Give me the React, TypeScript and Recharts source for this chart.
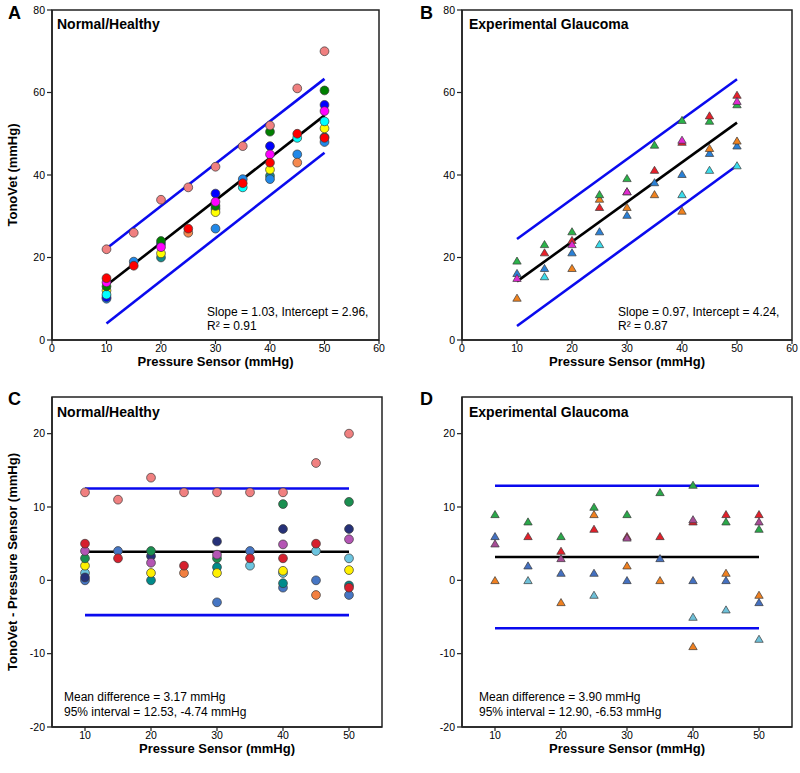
import React from "react";
import {
  ScatterChart,
  Scatter,
  XAxis,
  YAxis,
  ReferenceLine,
  ReferenceArea,
} from "recharts";

const FONT = '"Liberation Sans", Arial, Helvetica, sans-serif';

// pressure sensor levels (mmHg)
const pressure = [10, 15, 20, 25, 30, 35, 40, 45, 50];

// A: TonoVet readings, normal/healthy eyes
const aPink = [22, 26, 34, 37, 42, 47, 52, 61, 70];
const aGreen = [13, null, 24, null, 32.5, null, 50.5, null, 60.5];
const aBlue = [10.4, null, 23.3, null, 35.5, null, 47, null, 57];
const aMagenta = [14, null, 22.5, null, 33.5, null, 45, null, 55.5];
const aCyan = [11, null, null, null, null, 37, null, 49, 53];
const aYellow = [12, null, 21, null, 31, null, 41.3, null, 51.3];
const aTeal = [null, null, 20, null, 31.8, null, 39.8, null, 49.2];
const aRed = [15, 18, null, 27, null, 38, 43, 50, 49];
const aDodger = [10, 19, null, null, 27, 39, 39, 45, 48];
const aOrange = [null, null, null, 26, null, null, null, 43, null];

// B: TonoVet readings, experimental glaucoma
const bGreen = [19.2, 23.2, 26.3, 35.3, 39.2, 47.3, 53.3, 53.1, 57.1];
const bOrange = [10.2, null, 17.4, 34.2, 32.2, 35.3, 31.3, 46.5, 48.3];
const bRed = [null, 21.2, 24.2, 32.2, 36, 41.2, 48, 54.4, 59.4];
const bBlue = [16.2, 17.4, 21.2, 26.3, 30.3, 38.2, 40.2, 45.3, 47.1];
const bCyan = [null, 15.4, null, 23.2, null, null, 35.3, 41.2, 42.3];
const bMagenta = [15, null, 23.2, null, 36, null, 48.5, null, 57.9];

// C: difference TonoVet - sensor, normal/healthy
const cPink = [12, 11, 14, 12, 12, 12, 12, 16, 20];
const cGreen = [3, null, 4, null, 3, null, 10.4, null, 10.7];
const cNavy = [0.4, null, 3.3, null, 5.3, null, 7, null, 7];
const cOrchid = [4, null, 2.4, null, 3.5, null, 4.9, null, 5.6];
const cSky = [1, null, null, null, null, 2, 1, 4, 3];
const cYellow = [2, null, 1, null, 1, null, 1.3, null, 1.4];
const cTeal = [null, null, 0, null, 1.8, null, -0.4, null, -0.7];
const cRed = [5, 3, null, 2, null, 3, 3, 5, -1];
const cSteel = [0, 4, null, null, -3, 4, -1, 0, -2];
const cOrange = [null, null, null, 1, null, null, null, -2, null];

// D: difference TonoVet - sensor, experimental glaucoma
const dGreen = [9, 8, 6, 10, 9, 12, 13, 8, 7];
const dOrange = [0, null, -3, 9, 2, 0, -9, 1, -2];
const dRed = [null, 6, 4, 7, 6, 6, 8, 9, 9];
const dSteel = [6, 2, 1, 1, 0, 3, 0, 0, -3];
const dSky = [null, 0, null, -2, null, null, -5, -4, -8];
const dPurple = [5, null, 3, null, 5.8, null, 8.3, null, 8];

// fitted lines / limits at x = 10 and x = 50
const aFit = [13.26, 54.46];
const aUpper = [22.2, 63.3];
const aLower = [4.0, 45.4];
const bFit = [14.2, 52.7];
const bUpper = [24.5, 63.2];
const bLower = [3.4, 42.3];
const cMean = [3.9, 3.9];
const cUpper = [12.53, 12.53];
const cLower = [-4.74, -4.74];
const dMean = [3.19, 3.19];
const dUpper = [12.9, 12.9];
const dLower = [-6.53, -6.53];

const toPoints = (vals: (number | null)[]) =>
  pressure.flatMap((x, i) => (vals[i] == null ? [] : [{ x, y: vals[i] as number }]));

const dot = (fill: string) => (p: any) =>
  <circle cx={p.cx} cy={p.cy} r={4.4} fill={fill} stroke="#3a3a3a" strokeWidth={0.7} />;

const tri = (fill: string) => (p: any) => {
  const { cx, cy } = p;
  return (
    <path
      d={`M${cx},${cy - 3.8} L${cx + 4.2},${cy + 3.3} L${cx - 4.2},${cy + 3.3} Z`}
      fill={fill}
      stroke="#3a3a3a"
      strokeWidth={0.7}
    />
  );
};

type Series = { vals: (number | null)[]; color: string };

const seriesA: Series[] = [
  { vals: aTeal, color: "#148C8C" },
  { vals: aDodger, color: "#2088E8" },
  { vals: aOrange, color: "#F5894F" },
  { vals: aBlue, color: "#0000FF" },
  { vals: aYellow, color: "#FFFF00" },
  { vals: aCyan, color: "#00FFFF" },
  { vals: aGreen, color: "#008000" },
  { vals: aMagenta, color: "#FF00FF" },
  { vals: aRed, color: "#FF0000" },
  { vals: aPink, color: "#F08080" },
];
const seriesB: Series[] = [
  { vals: bCyan, color: "#3ADCEB" },
  { vals: bBlue, color: "#2A80D6" },
  { vals: bOrange, color: "#F0821E" },
  { vals: bGreen, color: "#2BB34A" },
  { vals: bRed, color: "#E8202A" },
  { vals: bMagenta, color: "#E02AD0" },
];
const seriesC: Series[] = [
  { vals: cSteel, color: "#4676C4" },
  { vals: cTeal, color: "#008B8B" },
  { vals: cOrange, color: "#F28040" },
  { vals: cSky, color: "#6CC5E0" },
  { vals: cYellow, color: "#FFF000" },
  { vals: cNavy, color: "#263178" },
  { vals: cGreen, color: "#1A8F50" },
  { vals: cOrchid, color: "#B455B4" },
  { vals: cRed, color: "#D6202E" },
  { vals: cPink, color: "#F08080" },
];
const seriesD: Series[] = [
  { vals: dSky, color: "#6EC0D8" },
  { vals: dSteel, color: "#4470C0" },
  { vals: dOrange, color: "#F08020" },
  { vals: dGreen, color: "#2AA84A" },
  { vals: dRed, color: "#E3202A" },
  { vals: dPurple, color: "#A64C95" },
];

const axisLine = { stroke: "#222", strokeWidth: 1.5 };
const tickLine = { stroke: "#222", strokeWidth: 1.2 };
const tickStyle = { fontSize: 10.5, fill: "#000" };
const labelStyle = { fontSize: 13, fontWeight: "bold", fill: "#000" };

type PanelProps = {
  left: number;
  top: number;
  width: number;
  marginRight: number;
  series: Series[];
  triangles?: boolean;
  xDomain: [number, number];
  xTicks: number[];
  yDomain: [number, number];
  yTicks: number[];
  yLabel?: string;
  mid: number[];
  upper: number[];
  lower: number[];
};

function Panel(props: PanelProps) {
  const { xDomain, yDomain } = props;
  const seg = (v: number[]) => [
    { x: 10, y: v[0] },
    { x: 50, y: v[1] },
  ];
  return (
    <div style={{ position: "absolute", left: props.left, top: props.top }}>
      <ScatterChart
        width={props.width}
        height={380}
        margin={{ top: 10, right: props.marginRight, bottom: 8, left: 0 }}
      >
        <XAxis
          type="number"
          dataKey="x"
          domain={xDomain}
          ticks={props.xTicks}
          interval={0}
          allowDataOverflow
          height={32}
          tickSize={4}
          tickMargin={1}
          axisLine={axisLine}
          tickLine={tickLine}
          tick={tickStyle}
          label={{ value: "Pressure Sensor (mmHg)", position: "insideBottom", offset: 6, style: labelStyle }}
        />
        <YAxis
          type="number"
          dataKey="y"
          domain={yDomain}
          ticks={props.yTicks}
          interval={0}
          allowDataOverflow
          width={52}
          tickSize={5}
          axisLine={axisLine}
          tickLine={tickLine}
          tick={tickStyle}
          label={
            props.yLabel
              ? {
                  value: props.yLabel,
                  angle: -90,
                  position: "insideLeft",
                  offset: 12,
                  style: { ...labelStyle, textAnchor: "middle" },
                }
              : undefined
          }
        />
        <ReferenceArea
          x1={xDomain[0]}
          x2={xDomain[1]}
          y1={yDomain[0]}
          y2={yDomain[1]}
          fill="none"
          fillOpacity={0}
          stroke="#222"
          strokeWidth={1.5}
        />
        {props.series.map((s, i) => (
          <Scatter
            key={i}
            data={toPoints(s.vals)}
            shape={props.triangles ? tri(s.color) : dot(s.color)}
            isAnimationActive={false}
          />
        ))}
        <ReferenceLine segment={seg(props.upper)} stroke="#0A0AEE" strokeWidth={2.6} />
        <ReferenceLine segment={seg(props.lower)} stroke="#0A0AEE" strokeWidth={2.6} />
        <ReferenceLine segment={seg(props.mid)} stroke="#000" strokeWidth={2.6} />
      </ScatterChart>
    </div>
  );
}

export default function App() {
  const t = { fontFamily: FONT, fill: "#000" };
  return (
    <div
      style={{
        position: "absolute",
        left: 0,
        top: 0,
        width: 800,
        height: 773,
        background: "#fff",
        fontFamily: FONT,
      }}
    >
      <Panel
        left={0}
        top={0}
        width={400}
        marginRight={21}
        series={seriesA}
        xDomain={[0, 60]}
        xTicks={[0, 10, 20, 30, 40, 50, 60]}
        yDomain={[0, 80]}
        yTicks={[0, 20, 40, 60, 80]}
        yLabel="TonoVet (mmHg)"
        mid={aFit}
        upper={aUpper}
        lower={aLower}
      />
      <Panel
        left={410}
        top={0}
        width={390}
        marginRight={8}
        series={seriesB}
        triangles
        xDomain={[0, 60]}
        xTicks={[0, 10, 20, 30, 40, 50, 60]}
        yDomain={[0, 80]}
        yTicks={[0, 20, 40, 60, 80]}
        mid={bFit}
        upper={bUpper}
        lower={bLower}
      />
      <Panel
        left={0}
        top={387}
        width={400}
        marginRight={18}
        series={seriesC}
        xDomain={[5, 55]}
        xTicks={[10, 20, 30, 40, 50]}
        yDomain={[-20, 25]}
        yTicks={[-20, -10, 0, 10, 20]}
        yLabel="TonoVet - Pressure Sensor (mmHg)"
        mid={cMean}
        upper={cUpper}
        lower={cLower}
      />
      <Panel
        left={410}
        top={387}
        width={390}
        marginRight={8}
        series={seriesD}
        triangles
        xDomain={[5, 55]}
        xTicks={[10, 20, 30, 40, 50]}
        yDomain={[-20, 25]}
        yTicks={[-20, -10, 0, 10, 20]}
        mid={dMean}
        upper={dUpper}
        lower={dLower}
      />
      <svg
        width={800}
        height={773}
        style={{ position: "absolute", left: 0, top: 0, pointerEvents: "none" }}
      >
        <g style={t} fontWeight="bold" fontSize={18}>
          <text x={8} y={19}>A</text>
          <text x={420} y={19}>B</text>
          <text x={8} y={405}>C</text>
          <text x={420} y={405}>D</text>
        </g>
        <g style={t} fontWeight="bold" fontSize={14}>
          <text x={57} y={29}>Normal/Healthy</text>
          <text x={469} y={29}>Experimental Glaucoma</text>
          <text x={57} y={417}>Normal/Healthy</text>
          <text x={469} y={417}>Experimental Glaucoma</text>
        </g>
        <g style={t} fontSize={12}>
          <text x={207} y={316}>Slope = 1.03, Intercept = 2.96,</text>
          <text x={207} y={330}>R² = 0.91</text>
          <text x={618} y={316}>Slope = 0.97, Intercept = 4.24,</text>
          <text x={618} y={330}>R² = 0.87</text>
          <text x={64} y={701}>Mean difference = 3.17 mmHg</text>
          <text x={64} y={716}>95% interval = 12.53, -4.74 mmHg</text>
          <text x={479} y={701}>Mean difference = 3.90 mmHg</text>
          <text x={479} y={716}>95% interval = 12.90, -6.53 mmHg</text>
        </g>
      </svg>
    </div>
  );
}
